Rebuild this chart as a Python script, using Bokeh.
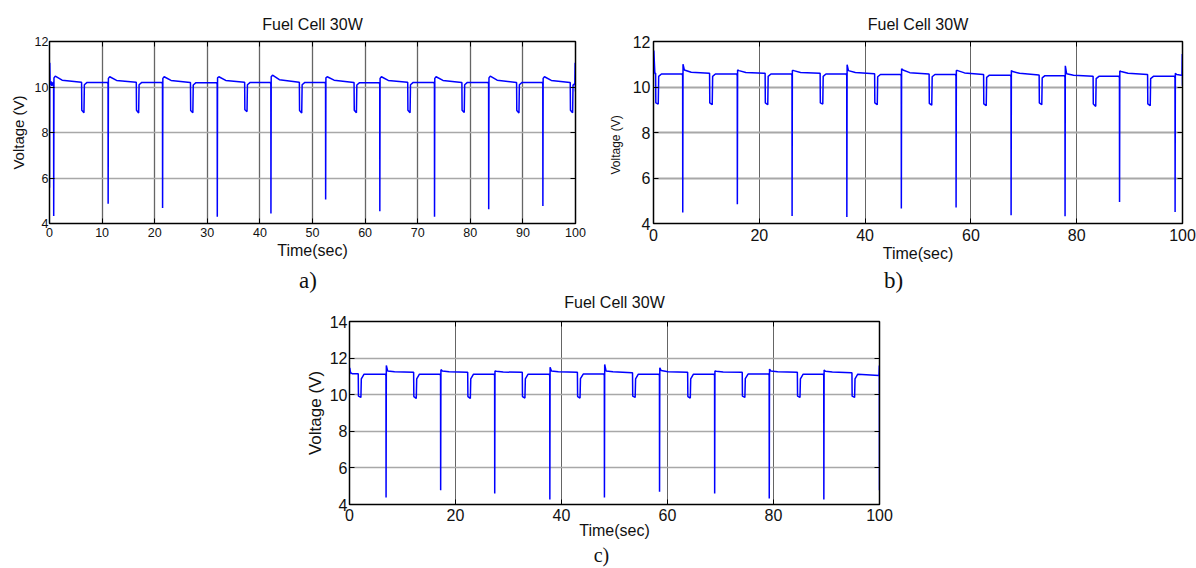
from bokeh.plotting import figure
from bokeh.models import Range1d, LinearAxis, FixedTicker, Spacer, CustomJSTickFormatter, Title
from bokeh.layouts import column, row
from bokeh.embed import file_html
from bokeh.resources import INLINE
from bokeh.core.properties import value

# ---------------- data ----------------
TITLE = "Fuel Cell 30W"
XLABEL = "Time(sec)"
YLABEL = "Voltage (V)"
LETTERS = ["a)", "b)", "c)"]

# panel a
a_start_t = [0.0, 0.05, 0.12, 0.3, 0.45, 0.65]
a_start_v = [5.57, 11.06, 10.1, 10.25, 10.05, 10.2]
a_spike_t = [0.8, 11.15, 21.5, 31.9, 42.1, 52.5, 62.8, 73.2, 83.5, 93.8]
a_spike_min = [4.33, 4.87, 4.68, 4.30, 4.44, 5.06, 4.54, 4.30, 4.63, 4.77]
a_spike_top = [10.4, 10.38, 10.38, 10.4, 10.45, 10.4, 10.38, 10.38, 10.4, 10.38]
a_spike_hi = [10.48, 10.45, 10.45, 10.45, 10.52, 10.45, 10.45, 10.45, 10.48, 10.45]
a_spike_knee = [10.3, 10.29, 10.29, 10.29, 10.32, 10.3, 10.29, 10.29, 10.3, 10.29]
a_dip_t = [6.1, 16.5, 26.8, 37.1, 47.5, 57.9, 68.1, 78.4, 88.8, 99.0]
a_dip_pre = [10.21, 10.21, 10.2, 10.21, 10.21, 10.2, 10.21, 10.2, 10.2, 10.2]
a_dip_top = [8.98, 8.98, 8.97, 9.0, 8.97, 8.98, 8.98, 8.98, 8.97, 8.98]
a_dip_min = [8.87, 8.86, 8.87, 8.92, 8.86, 8.87, 8.87, 8.88, 8.86, 8.87]
a_dip_flat = [10.2, 10.2, 10.19, 10.2, 10.2, 10.19, 10.2, 10.2, 10.2, 10.18]
a_end_t = [99.88, 99.94, 100.0]
a_end_v = [10.15, 11.06, 9.8]

# panel b
b_start_t = [0.0, 0.06, 0.25]
b_start_v = [10.55, 11.6, 10.62]
b_spike_t = [5.53, 15.85, 26.2, 36.55, 46.85, 57.2, 67.6, 77.8, 88.1, 98.6]
b_spike_min = [4.48, 4.85, 4.33, 4.29, 4.66, 4.70, 4.36, 4.32, 4.95, 4.51]
b_spike_top = [11.0, 10.75, 10.72, 10.98, 10.8, 10.72, 10.72, 10.93, 10.7, 10.6]
b_spike_hi = [10.75, 10.72, 10.72, 10.72, 10.75, 10.72, 10.68, 10.58, 10.68, 10.55]
b_spike_knee = [10.65, 10.64, 10.64, 10.64, 10.63, 10.62, 10.6, 10.52, 10.6, 10.5]
b_dip_t = [0.4, 10.6, 21.1, 31.5, 41.8, 52.1, 62.4, 72.9, 83.1, 93.4]
b_dip_pre = [10.6, 10.6, 10.6, 10.6, 10.58, 10.57, 10.55, 10.53, 10.47, 10.55]
b_dip_top = [9.3, 9.3, 9.3, 9.3, 9.3, 9.28, 9.26, 9.3, 9.25, 9.26]
b_dip_min = [9.25, 9.22, 9.22, 9.25, 9.22, 9.2, 9.18, 9.22, 9.15, 9.18]
b_dip_flat = [10.57, 10.57, 10.57, 10.57, 10.55, 10.55, 10.52, 10.5, 10.47, 10.47]
b_end_t = [99.9, 99.96, 100.0]
b_end_v = [10.5, 11.45, 10.05]

# panel c
c_start_t = [0.0, 0.05, 0.2, 0.5]
c_start_v = [11.1, 11.47, 11.2, 11.15]
c_spike_t = [6.9, 17.2, 27.4, 37.8, 48.1, 58.5, 68.9, 79.2, 89.5]
c_spike_min = [4.38, 4.78, 4.60, 4.27, 4.38, 4.69, 4.60, 4.33, 4.27]
c_spike_top = [11.6, 11.37, 11.3, 11.5, 11.65, 11.47, 11.3, 11.4, 11.35]
c_spike_hi = [11.3, 11.3, 11.28, 11.3, 11.3, 11.32, 11.28, 11.3, 11.28]
c_spike_knee = [11.25, 11.25, 11.24, 11.25, 11.25, 11.26, 11.24, 11.25, 11.24]
c_dip_t = [1.65, 12.1, 22.3, 32.6, 43.0, 53.4, 63.8, 74.1, 84.5, 94.8]
c_dip_pre = [11.15, 11.22, 11.22, 11.22, 11.22, 11.2, 11.22, 11.22, 11.22, 11.2]
c_dip_top = [9.92, 9.9, 9.9, 9.9, 9.9, 9.92, 9.9, 9.92, 9.92, 9.92]
c_dip_min = [9.85, 9.8, 9.8, 9.82, 9.82, 9.85, 9.82, 9.85, 9.85, 9.85]
c_dip_flat = [11.12, 11.12, 11.12, 11.12, 11.13, 11.12, 11.12, 11.13, 11.12, 11.12]
c_end_t = [99.9, 99.97, 100.0]
c_end_v = [11.05, 11.6, 4.78]

a_xticks = [0, 10, 20, 30, 40, 50, 60, 70, 80, 90, 100]
bc_xticks = [0, 20, 40, 60, 80, 100]
ab_yticks = [4, 6, 8, 10, 12]
c_yticks = [4, 6, 8, 10, 12, 14]


def build_trace(start_t, start_v, spike_t, spike_min, spike_top, spike_hi, spike_knee,
                dip_t, dip_pre, dip_top, dip_min, dip_flat, end_t, end_v,
                dip_len, rec_drop):
    events = sorted([(t, 0, i) for i, t in enumerate(spike_t)] +
                    [(t, 1, i) for i, t in enumerate(dip_t)])
    xs, ys = list(start_t), list(start_v)
    for t, kind, i in events:
        if kind == 0:
            pre = ys[-1]
            xs += [t - 0.1, t - 0.02, t, t + 0.05, t + 0.3, t + 1.6]
            ys += [pre, pre - 0.08, spike_min[i], spike_top[i], spike_hi[i], spike_knee[i]]
        else:
            xs += [t - 0.05, t, t + 0.04, t + dip_len, t + dip_len + 0.08, t + dip_len + 0.6]
            ys += [dip_pre[i], dip_pre[i], dip_top[i], dip_min[i], dip_flat[i] - rec_drop, dip_flat[i]]
    xs += end_t
    ys += end_v
    return xs, ys


SANS = "Liberation Sans"
SERIF = "Liberation Serif"
INK = "#111111"


def text_strip(width, height, items):
    """A frame-only figure in pixel units that carries free text."""
    s = figure(width=width, height=height, output_backend="svg", toolbar_location=None,
               x_range=Range1d(0, width), y_range=Range1d(height, 0),
               min_border=0, x_axis_location=None, y_axis_location=None)
    s.outline_line_color = None
    s.background_fill_color = "white"
    s.border_fill_color = "white"
    s.grid.visible = False
    for (txt, x, y, font, size) in items:
        s.text(x=[x], y=[y], text=[txt], text_font=value(font), text_font_size=value(size),
               text_align="center", text_baseline="alphabetic", text_color=INK)
    return s


def make_panel(xs, ys, width, height, bl, br, bt, bb, yr, xticks, yticks,
               tick_fs, xstand, ystand, xlab_stand, ylab_fs, ylab_stand,
               ylab_title_offset=None, xgrid_w=1.2, ygrid_w=1.5):
    p = figure(width=width, height=height, output_backend="svg", toolbar_location=None,
               x_range=Range1d(0, 100), y_range=Range1d(*yr),
               min_border_left=bl, min_border_right=br, min_border_top=bt, min_border_bottom=bb,
               x_axis_location=None, y_axis_location=None)
    p.background_fill_color = "white"
    p.border_fill_color = "white"
    p.outline_line_color = "black"
    p.outline_line_width = 1.5

    def axis(kind, loc, labels):
        ax = LinearAxis(ticker=FixedTicker(ticks=xticks if kind == "x" else yticks))
        ax.axis_line_color = "black"
        ax.major_tick_in = 5
        ax.major_tick_out = 0
        ax.major_tick_line_color = "black"
        ax.minor_tick_line_color = None
        if labels:
            ax.major_label_text_font = SANS
            ax.major_label_text_font_size = tick_fs
            ax.major_label_text_color = INK
            ax.major_label_standoff = xstand if kind == "x" else ystand
        else:
            ax.formatter = CustomJSTickFormatter(code="return ''")
            ax.major_label_standoff = 0
            ax.major_label_text_font_size = "1px"
        p.add_layout(ax, loc)
        return ax

    xb = axis("x", "below", True)
    xb.axis_label = XLABEL
    xb.axis_label_text_font = SANS
    xb.axis_label_text_font_size = "16px"
    xb.axis_label_text_font_style = "normal"
    xb.axis_label_text_color = INK
    xb.axis_label_standoff = xlab_stand
    axis("x", "above", False)
    yl = axis("y", "left", True)
    if ylab_title_offset is None:
        yl.axis_label = YLABEL
        yl.axis_label_text_font = SANS
        yl.axis_label_text_font_size = ylab_fs
        yl.axis_label_text_font_style = "normal"
        yl.axis_label_text_color = INK
        yl.axis_label_standoff = ylab_stand
    else:
        p.add_layout(Title(text=YLABEL, align="left", offset=ylab_title_offset,
                           vertical_align="bottom", standoff=ylab_stand,
                           text_font=SANS, text_font_size=ylab_fs,
                           text_font_style="normal", text_color=INK), "left")
    axis("y", "right", False)

    p.xgrid.ticker = FixedTicker(ticks=xticks)
    p.ygrid.ticker = FixedTicker(ticks=yticks)
    p.xgrid.grid_line_color = "#4a4a4a"
    p.xgrid.grid_line_width = xgrid_w
    p.xgrid.grid_line_alpha = 0.85
    p.ygrid.grid_line_color = "#a8a8a8"
    p.ygrid.grid_line_width = ygrid_w

    p.line(xs, ys, line_color="#0000ff", line_width=1.5)
    return p


axs, ays = build_trace(a_start_t, a_start_v, a_spike_t, a_spike_min, a_spike_top, a_spike_hi,
                       a_spike_knee, a_dip_t, a_dip_pre, a_dip_top, a_dip_min, a_dip_flat,
                       a_end_t, a_end_v, 0.45, 0.1)
bxs, bys = build_trace(b_start_t, b_start_v, b_spike_t, b_spike_min, b_spike_top, b_spike_hi,
                       b_spike_knee, b_dip_t, b_dip_pre, b_dip_top, b_dip_min, b_dip_flat,
                       b_end_t, b_end_v, 0.5, 0.1)
cxs, cys = build_trace(c_start_t, c_start_v, c_spike_t, c_spike_min, c_spike_top, c_spike_hi,
                       c_spike_knee, c_dip_t, c_dip_pre, c_dip_top, c_dip_min, c_dip_flat,
                       c_end_t, c_end_v, 0.5, 0.25)

# top strip with the two upper titles (y 0..34)
top = text_strip(1196, 34, [(TITLE, 312, 23.5, SANS, "16px"), (TITLE, 917.5, 23.5, SANS, "16px")])

# panel a: canvas x 0..600, y 34..268 ; frame 49..575 x 40..227
pa = make_panel(axs, ays, 600, 234, 49, 25, 6, 41, (4, 12), a_xticks, ab_yticks,
                "12.5px", 4, 1, 2, "15px", 5, xgrid_w=1.3, ygrid_w=1.4)
# panel b: canvas x 600..1196, y 34..268 ; frame 653..1182 x 41..223
pb = make_panel(bxs, bys, 596, 234, 53, 14, 7, 45, (4, 12), bc_xticks, ab_yticks,
                "16px", 5, 3, 1, "12px", 13, ylab_title_offset=49, xgrid_w=1.0, ygrid_w=2.0)

# middle strip: panel letters a), b) and the lower title (y 268..310)
mid = text_strip(1196, 42, [(LETTERS[0], 307.5, 12.4, SERIF, "23px"),
                            (LETTERS[1], 893, 12.4, SERIF, "23px"),
                            (TITLE, 614, 33.5, SANS, "16px")])

# panel c: canvas x 299..899, y 310..545 ; frame 349..879 x 321..504
pc = make_panel(cxs, cys, 600, 235, 50, 20, 11, 41, (4, 14), bc_xticks, c_yticks,
                "16px", 4, 2, -2, "17px", 2, xgrid_w=1.0, ygrid_w=1.5)

# bottom strip with letter c) (y 545..568)
bot = text_strip(1196, 23, [(LETTERS[2], 601, 9.3, SERIF, "20px")])

layout = column(top, row(pa, pb), mid, row(Spacer(width=299, height=235), pc), bot)

open("out.html", "w").write(file_html(layout, INLINE))
